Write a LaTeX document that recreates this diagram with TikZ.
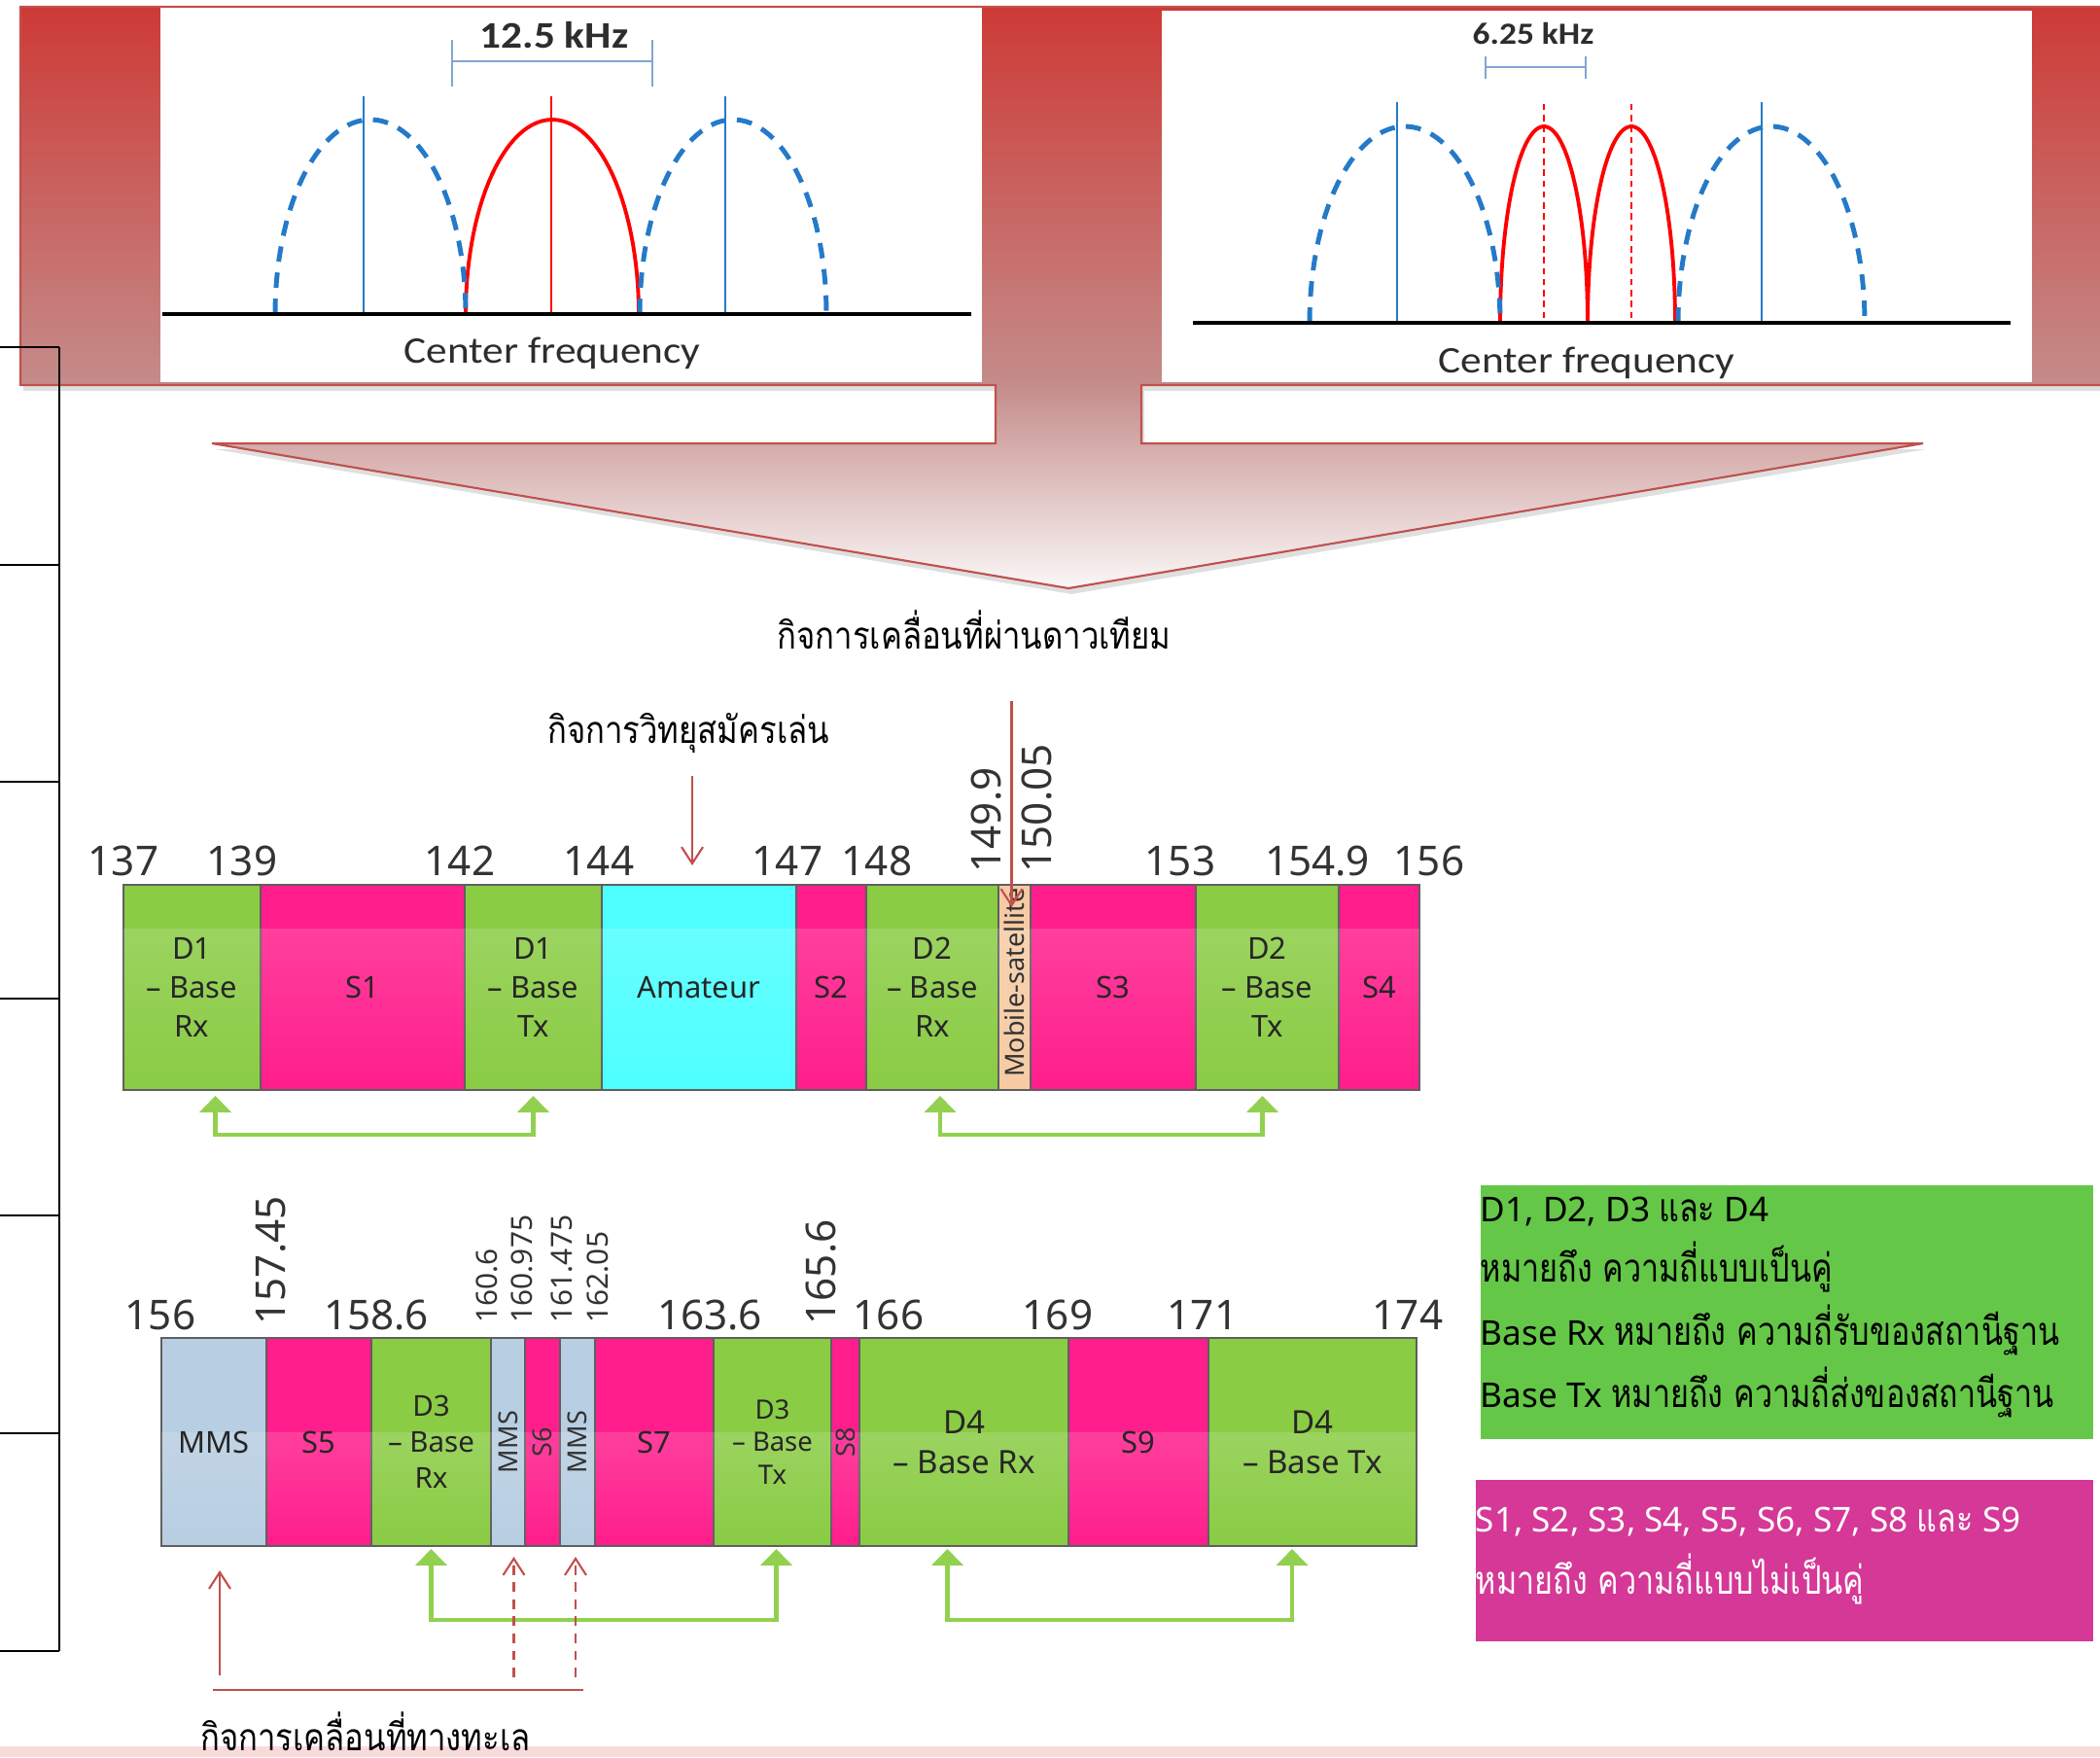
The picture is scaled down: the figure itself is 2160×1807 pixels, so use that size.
\documentclass[tikz,border=0pt]{standalone}
\usepackage{fontspec}
\setmainfont{Noto Sans}
\newfontfamily\thaifont[Script=Thai,Scale=1.15,FakeStretch=0.8]{Loma}
\newfontfamily\thaicond[Script=Thai,FakeStretch=0.85]{Loma}
\newfontfamily\calfont[FakeStretch=1.12]{Carlito}
\usetikzlibrary{arrows.meta,calc,fadings,shadows}

\definecolor{bandGreen}{RGB}{138,204,68}
\definecolor{bandPink}{RGB}{255,30,140}
\definecolor{bandCyan}{RGB}{77,255,255}
\definecolor{bandMms}{RGB}{184,206,226}
\definecolor{bandSat}{RGB}{246,203,164}
\definecolor{bandEdge}{RGB}{95,95,95}
\definecolor{pairGreen}{RGB}{146,208,80}
\definecolor{markRed}{RGB}{192,80,77}
\definecolor{calloutTop}{RGB}{205,58,54}
\definecolor{calloutMid}{RGB}{196,140,138}
\definecolor{calloutLow}{RGB}{250,247,247}
\definecolor{specBlue}{RGB}{36,122,200}
\definecolor{specRed}{RGB}{255,0,0}
\definecolor{dimBlue}{RGB}{130,165,210}
\definecolor{legendGreen}{RGB}{101,199,72}
\definecolor{legendMagenta}{RGB}{213,56,150}
\definecolor{stripPink}{RGB}{249,218,219}
\definecolor{textGray}{RGB}{45,45,45}

\pgfdeclareverticalshading{calloutshade}{100bp}{color(0bp)=(calloutLow); color(25bp)=(calloutLow);
  color(42.5bp)=(calloutMid); color(75bp)=(calloutTop); color(100bp)=(calloutTop)}

\begin{document}
\begin{tikzpicture}[
  x=0.1mm, y=-0.1mm,
  seg/.style={draw=bandEdge, line width=0.4pt, fill=#1, inner sep=0pt, outer sep=0pt},
  seglabel/.style={font=\fontsize{8.8}{11.4}\selectfont, align=center, text=black!85, inner sep=0pt},
  uplabel/.style={font=\fontsize{7.7}{9}\selectfont, text=black!80, inner sep=0pt, rotate=90},
  freq/.style={font=\fontsize{12}{14}\selectfont, text=black!80, inner sep=0pt, anchor=base},
  frequp/.style={font=\fontsize{12}{14}\selectfont, text=black!80, inner sep=0pt, anchor=west, rotate=90},
  freqsmall/.style={font=\fontsize{8.5}{10}\selectfont, text=black!80, inner sep=0pt, anchor=west, rotate=90},
  pairarr/.style={{Triangle[length=1.7mm,width=3.2mm]}-{Triangle[length=1.7mm,width=3.2mm]},
                  pairGreen, line width=1.4pt},
  markarr/.style={-{Straight Barb[length=1.7mm,width=2.2mm]}, markRed, line width=0.6pt},
  thailabel/.style={font=\thaicond\fontsize{11}{13}\selectfont, inner sep=0pt, text=black},
  legbox/.style={fill=#1, inner sep=0pt, anchor=north west},
  legtext/.style={font=\fontsize{10}{12}\selectfont, inner sep=0pt, anchor=base west},
  spectext/.style={font=\calfont\fontsize{11}{13}\selectfont, text=textGray, inner sep=0pt},
  specdash/.style={specBlue, line width=1.4pt, dash pattern=on 4.5pt off 3.2pt},
  specarch/.style={specRed, line width=1.1pt},
]

\useasboundingbox (0,0) rectangle (2160,1807);

% ─── callout arrow with the two channel plots ───────────────────
\shadedraw[shading=calloutshade, draw=markRed, line width=0.6pt,
           drop shadow={opacity=0.25, shadow xshift=0.3mm, shadow yshift=-0.6mm}]
  (21,7) -- (2180,7) -- (2180,396) -- (1174,396) -- (1174,456) -- (1978,456)
  -- (1099,605) -- (218,456) -- (1024,456) -- (1024,396) -- (21,396) -- cycle;
\fill[white] (165,8) rectangle (1010,393);
\fill[white] (1195,11) rectangle (2090,393);

% 12.5 kHz channels
\draw[dimBlue, line width=0.6pt] (465,63) -- (671,63) (465,41) -- (465,89) (671,41) -- (671,89);
\node[spectext, font=\calfont\bfseries\fontsize{11}{13}\selectfont] (wideband) at (570,36) {12.5 kHz};
\draw[specRed, line width=0.5pt] (567,99) -- (567,323);
\foreach \cx in {374,746}{
  \draw[specBlue, line width=0.6pt] (\cx,99) -- (\cx,323);
}
\draw[specarch] plot[domain=180:0, samples=60] ({568+89*cos(\x)},{323-200*sin(\x)});
\draw[specdash] plot[domain=180:0, samples=60] ({381+98*cos(\x)},{323-200*sin(\x)});
\draw[specdash] plot[domain=180:0, samples=60] ({754+96*cos(\x)},{323-200*sin(\x)});
\draw[line width=1.1pt] (167,323) -- (999,323);
\node[spectext] (centerA) at (568,363) {Center frequency};

% 6.25 kHz channels
\draw[dimBlue, line width=0.6pt] (1528,69) -- (1631,69) (1528,58) -- (1528,81) (1631,58) -- (1631,81);
\node[spectext, font=\calfont\bfseries\fontsize{9}{11}\selectfont] (narrowband) at (1577,35) {6.25 kHz};
\foreach \cx in {1588,1678}{
  \draw[specRed, line width=0.45pt, dash pattern=on 1.8pt off 1.4pt] (\cx,107) -- (\cx,332);
  \draw[specarch] plot[domain=180:0, samples=60] ({\cx+45*cos(\x)},{332-202*sin(\x)});
}
\foreach \cx in {1437,1812}{
  \draw[specBlue, line width=0.6pt] (\cx,105) -- (\cx,332);
}
\draw[specdash] plot[domain=180:0, samples=60] ({1445+98*cos(\x)},{332-202*sin(\x)});
\draw[specdash] plot[domain=180:0, samples=60] ({1822+96*cos(\x)},{332-202*sin(\x)});
\draw[line width=1.1pt] (1227,332) -- (2068,332);
\node[spectext] (centerB) at (1632,373) {Center frequency};

% ─── left frame lines ──────────────────────────────────────────
\draw[line width=0.85pt] (61,357) -- (61,1698);
\foreach \y in {357,581,804,1027,1250,1474,1698}{
  \draw[line width=0.6pt] (0,\y) -- (61,\y);
}

% ─── band 137 - 156 MHz ────────────────────────────────────────
\def\topA{910}
\def\botA{1121}
\foreach \nm/\l/\r/\col in {d1rx/127/268/bandGreen, s1/268/478/bandPink, d1tx/478/619/bandGreen,
    amateur/619/819/bandCyan, s2/819/891/bandPink, d2rx/891/1027/bandGreen,
    mobsat/1027/1060/bandSat, s3/1060/1230/bandPink, d2tx/1230/1377/bandGreen, s4/1377/1460/bandPink}{
  \node[seg=\col, minimum width={(\r-\l)*0.1mm}, minimum height={(\botA-\topA)*0.1mm}]
      (\nm) at ({(\l+\r)/2},{(\topA+\botA)/2}) {};
}
\fill[white, opacity=0.15, path fading=south] ($(d1rx.south west)+(0,-166)$) rectangle (s4.south east);

\foreach \nm/\txt in {d1rx/{D1\\– Base\\Rx}, s1/S1, d1tx/{D1\\– Base\\Tx}, amateur/Amateur, s2/S2,
    d2rx/{D2\\– Base\\Rx}, s3/S3, d2tx/{D2\\– Base\\Tx}, s4/S4}{
  \node[seglabel] (t-\nm) at (\nm.center) {\txt};
}
\node[uplabel] (t-mobsat) at ($(mobsat.center)+(0,-5)$) {Mobile-satellite};

\foreach \v/\x [count=\i] in {137/127, 139/249, 142/473, 144/616, 147/810, 148/902,
    153/1214, 154.9/1355, 156/1470}{
  \node[freq] (fa\i) at (\x,900) {\v};
}
\node[frequp] (fa10) at (1015,898) {149.9};
\node[frequp] (fa11) at (1066,898) {150.05};

\draw[pairarr] ($(d1rx.south)+(24,6)$) |- ($(d1tx.south)+(0,46)$) -- ($(d1tx.south)+(0,6)$);
\draw[pairarr] ($(d2rx.south)+(8,6)$) |- ($(d2tx.south)+(-5,46)$) -- ($(d2tx.south)+(-5,6)$);

% labels above band
\node[thailabel, anchor=base] (satlabel) at (1002,667) {กิจการเคลื่อนที่ผ่านดาวเทียม};
\node[thailabel, anchor=base] (amlabel) at (708,764) {กิจการวิทยุสมัครเล่น};
\draw[markarr] ($(amateur.north)+(-7,-112)$) -- ($(amateur.north)+(-7,-20)$);
\draw[markarr] ($(mobsat.north)+(-3,-189)$) -- ($(mobsat.north)+(-3,23)$);

% ─── band 156 - 174 MHz ────────────────────────────────────────
\def\topB{1376}
\def\botB{1590}
\foreach \nm/\l/\r/\col in {mmsa/166/274/bandMms, s5/274/382/bandPink, d3rx/382/505/bandGreen,
    mmsb/505/540/bandMms, s6/540/576/bandPink, mmsc/576/612/bandMms, s7/612/734/bandPink,
    d3tx/734/855/bandGreen, s8/855/884/bandPink, d4rx/884/1099/bandGreen, s9/1099/1243/bandPink,
    d4tx/1243/1457/bandGreen}{
  \node[seg=\col, minimum width={(\r-\l)*0.1mm}, minimum height={(\botB-\topB)*0.1mm}]
      (\nm) at ({(\l+\r)/2},{(\topB+\botB)/2}) {};
}
\fill[white, opacity=0.15, path fading=south] ($(mmsa.south west)+(0,-117)$) rectangle (d4tx.south east);

\foreach \nm/\txt in {mmsa/MMS, s5/S5, s7/S7, s9/S9}{
  \node[seglabel] (t-\nm) at (\nm.center) {\txt};
}
\node[seglabel, font=\fontsize{8.4}{10.5}\selectfont] (t-d3rx) at (d3rx.center) {D3\\– Base\\Rx};
\node[seglabel, font=\fontsize{7.8}{9.5}\selectfont] (t-d3tx) at (d3tx.center) {D3\\– Base\\Tx};
\node[seglabel, font=\fontsize{9.4}{11.7}\selectfont] (t-d4rx) at (d4rx.center) {D4\\– Base Rx};
\node[seglabel, font=\fontsize{9.4}{11.7}\selectfont] (t-d4tx) at (d4tx.center) {D4\\– Base Tx};
\foreach \nm/\txt in {mmsb/MMS, s6/S6, mmsc/MMS, s8/S8}{
  \node[uplabel] (t-\nm) at (\nm.center) {\txt};
}

\foreach \v/\x [count=\i] in {156/165, 158.6/387, 163.6/730, 166/914, 169/1088, 171/1237, 174/1448}{
  \node[freq] (fb\i) at (\x,1367) {\v};
}
\node[frequp] (fb8) at (279,1363) {157.45};
\node[frequp] (fb9) at (845,1363) {165.6};
\foreach \v/\x [count=\i] in {160.6/501, 160.975/537, 161.475/578, 162.05/615}{
  \node[freqsmall] (fc\i) at (\x,1361) {\v};
}

\draw[pairarr] ($(d3rx.south)+(0,3)$) |- ($(d3tx.south)+(4,76)$) -- ($(d3tx.south)+(4,3)$);
\draw[pairarr] ($(d4rx.south)+(-17,3)$) |- ($(d4tx.south)+(-21,76)$) -- ($(d4tx.south)+(-21,3)$);

% maritime mobile marks
\draw[markarr] ($(mmsa.south)+(6,133)$) -- ($(mmsa.south)+(6,25)$);
\draw[markarr, dash pattern=on 2.8pt off 2.2pt] ($(mmsb.south)+(6,135)$) -- ($(mmsb.south)+(6,11)$);
\draw[markarr, dash pattern=on 2.8pt off 2.2pt] ($(mmsc.south)+(-2,135)$) -- ($(mmsc.south)+(-2,11)$);
\coordinate (seaL) at (219,1738);
\coordinate (seaR) at (600,1738);
\draw[markRed, line width=0.7pt] (seaL) -- (seaR);

% ─── bottom strip and sea label ────────────────────────────────
\fill[stripPink] (0,1796) rectangle (2160,1807);
\node[thailabel, anchor=base] (sealabel) at (376,1800) {กิจการเคลื่อนที่ทางทะเล};

% ─── legend ────────────────────────────────────────────────────
\node[legbox=legendGreen, minimum width=63mm, minimum height=26.1mm] (legD) at (1522,1218) {};
\node[legbox=legendMagenta, minimum width=63.5mm, minimum height=16.6mm] (legS) at (1517,1521) {};
\node[legtext] (legD1) at (1522,1256) {D1, D2, D3 {\thaifont และ} D4};
\node[legtext] (legD2) at (1522,1318) {\thaifont หมายถึง ความถี่แบบเป็นคู่};
\node[legtext] (legD3) at (1522,1383) {Base Rx {\thaifont หมายถึง ความถี่รับของสถานีฐาน}};
\node[legtext] (legD4) at (1522,1447) {Base Tx {\thaifont หมายถึง ความถี่ส่งของสถานีฐาน}};
\node[legtext, text=white] (legS1) at (1517,1575) {S1, S2, S3, S4, S5, S6, S7, S8 {\thaifont และ} S9};
\node[legtext, text=white] (legS2) at (1517,1639) {\thaifont หมายถึง ความถี่แบบไม่เป็นคู่};

\end{tikzpicture}
\end{document}
